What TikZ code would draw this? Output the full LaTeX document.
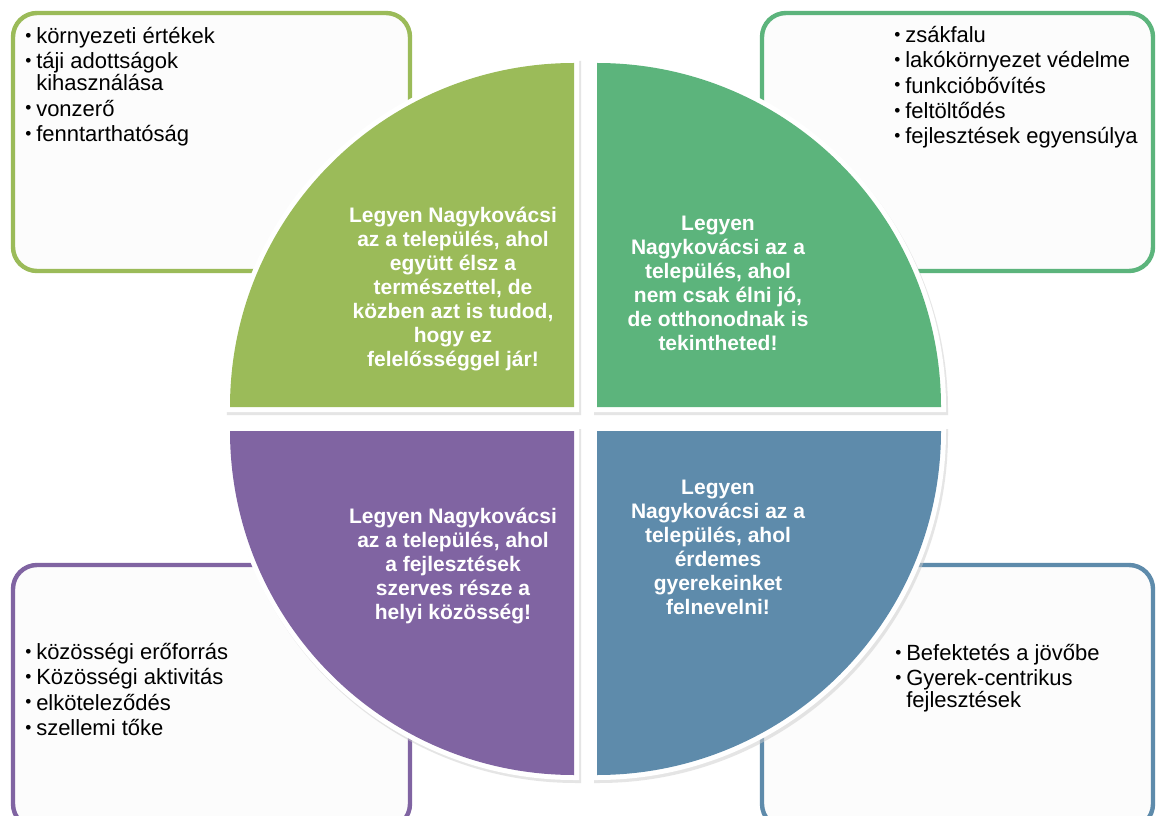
\documentclass[tikz,border=0pt]{standalone}
\usepackage{fontspec}
\setmainfont{Liberation Sans}
\usepackage{tikz}
\usetikzlibrary{positioning, calc}

\definecolor{zold}{RGB}{155,187,89}
\definecolor{menta}{RGB}{92,180,124}
\definecolor{lila}{RGB}{128,100,162}
\definecolor{kek}{RGB}{94,139,171}

\newcommand{\pont}{\makebox[8.25pt][l]{\raisebox{.1em}{\fontsize{13pt}{13pt}\selectfont\textbullet}}}

\begin{document}
\begin{tikzpicture}[x=.75pt,y=-.75pt,
      box/.style={draw, line width=3.3pt, fill=white!99!black, rounded corners=18pt},
      lista/.style={anchor=north west, inner sep=0pt, align=left,
         font=\fontsize{16.5pt}{19pt}\selectfont},
      cel/.style={align=center, text=white, inner sep=0pt,
         font=\fontsize{15.75pt}{18pt}\selectfont\bfseries}]
            \clip (0,0) rectangle (1156,816);
            \fill [white] (0,0) rectangle (1156,816);

             \tikzstyle{arnyek} = [fill=black!20, draw=black!20, opacity=.5, line width=7.5pt, shift={(2,3)}]
             \tikzstyle{perem} = [fill=white, draw=white, line width=7.5pt]

             \draw [box, draw=zold]  (13,13) rectangle (410,271);
             \draw [box, draw=menta] (762,13) rectangle (1153,271);
             \draw [box, draw=lila]  (13,565) rectangle (410,828);
             \draw [box, draw=kek]   (762,565) rectangle (1153,828);

             \node [lista] at (25,27) (list1) {\pont környezeti értékek\\
                   \pont táji adottságok\\[-2.5pt]
                   \hspace*{8.25pt}kihasználása\\
                   \pont vonzerő\\
                   \pont fenntarthatóság};
             \node [lista] at (894,26) (list2) {\pont zsákfalu\\
                   \pont lakókörnyezet védelme\\
                   \pont funkcióbővítés\\
                   \pont feltöltődés\\
                   \pont fejlesztések egyensúlya};
             \node [lista] at (25,643) (list3) {\pont közösségi erőforrás\\
                   \pont Közösségi aktivitás\\
                   \pont elköteleződés\\
                   \pont szellemi tőke};
             \node [lista] at (895,644) (list4) {\pont Befektetés a jövőbe\\
                   \pont Gyerek-centrikus\\[-3pt]
                   \hspace*{8.25pt}fejlesztések};

             \path [arnyek] (574,407) -- (230,407) arc [start angle=180, end angle=90, radius=258pt] -- cycle;
             \path [arnyek] (597,407) -- (597,63) arc [start angle=90, end angle=0, radius=258pt] -- cycle;
             \path [arnyek] (574,431) -- (574,775) arc [start angle=270, end angle=180, radius=258pt] -- cycle;
             \path [arnyek] (597,431) -- (941,431) arc [start angle=0, end angle=-90, radius=258pt] -- cycle;

             \path [perem] (574,407) -- (230,407) arc [start angle=180, end angle=90, radius=258pt] -- cycle;
             \path [perem] (597,407) -- (597,63) arc [start angle=90, end angle=0, radius=258pt] -- cycle;
             \path [perem] (574,431) -- (574,775) arc [start angle=270, end angle=180, radius=258pt] -- cycle;
             \path [perem] (597,431) -- (941,431) arc [start angle=0, end angle=-90, radius=258pt] -- cycle;

             \fill [zold]  (574,407) -- (230,407) arc [start angle=180, end angle=90, radius=258pt] -- cycle;
             \fill [menta] (597,407) -- (597,63) arc [start angle=90, end angle=0, radius=258pt] -- cycle;
             \fill [lila]  (574,431) -- (574,775) arc [start angle=270, end angle=180, radius=258pt] -- cycle;
             \fill [kek]   (597,431) -- (941,431) arc [start angle=0, end angle=-90, radius=258pt] -- cycle;

             \node [cel] at (453,289) (goal1) {Legyen Nagykovácsi\\az a település, ahol\\együtt élsz a\\természettel, de\\közben azt is tudod,\\hogy ez\\felelősséggel jár!};
             \node [cel] at (718,283) (goal2) {Legyen\\Nagykovácsi az a\\település, ahol\\nem csak élni jó,\\de otthonodnak is\\tekintheted!};
             \node [cel] at (453,566) (goal3) {Legyen Nagykovácsi\\az a település, ahol\\a fejlesztések\\szerves része a\\helyi közösség!};
             \node [cel] at (718,547) (goal4) {Legyen\\Nagykovácsi az a\\település, ahol\\érdemes\\gyerekeinket\\felnevelni!};
\end{tikzpicture}
\end{document}
